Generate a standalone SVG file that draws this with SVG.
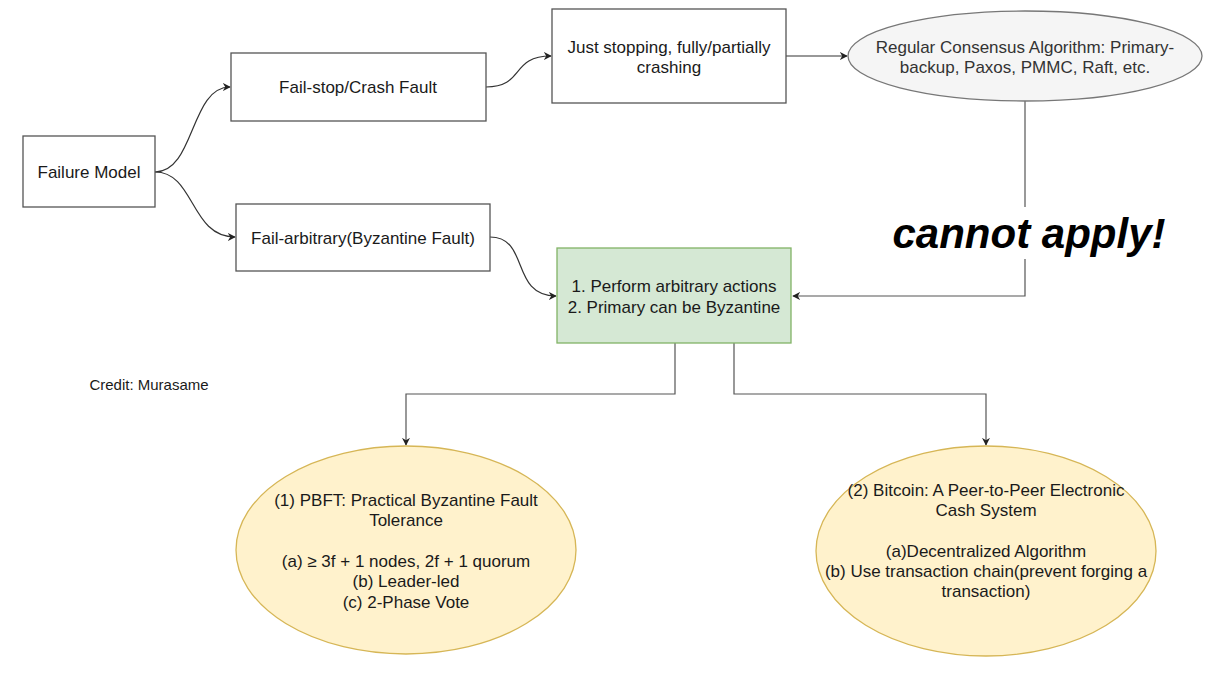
<svg xmlns="http://www.w3.org/2000/svg" width="1231" height="686" viewBox="0 0 1231 686">
<style>
text{font-family:"Liberation Sans",Arial,sans-serif;font-size:17px;fill:#1a1a1a;text-anchor:middle}
.box{fill:#ffffff;stroke:#555555;stroke-width:1.3}
.green{fill:#d5e8d4;stroke:#82b366;stroke-width:1.3}
.yellow{fill:#fff2cc;stroke:#d6b656;stroke-width:1.3}
.grey{fill:#f5f5f5;stroke:#777777;stroke-width:1.3}
.edge{fill:none;stroke:#333333;stroke-width:1.2}
.edgeg{fill:none;stroke:#555555;stroke-width:1.2}
</style>
<defs>
<marker id="arr" viewBox="0 0 10 10" refX="9" refY="5" markerWidth="8" markerHeight="8" orient="auto" markerUnits="userSpaceOnUse">
<path d="M0,0 L10,5 L0,10 L3,5 Z" fill="#222222"/>
</marker>
</defs>
<rect width="1231" height="686" fill="#ffffff"/>
<g id="connectors">
<path class="edge" d="M155,172 C195,172 190,87 230,87" marker-end="url(#arr)"/>
<path class="edge" d="M155,172 C195,172 190,237 235,237" marker-end="url(#arr)"/>
<path class="edge" d="M486,87 C525,87 510,56 551,56" marker-end="url(#arr)"/>
<path class="edge" d="M490,237 C530,237 510,296 556,296" marker-end="url(#arr)"/>
<path class="edge" d="M786,56 L847,56" marker-end="url(#arr)"/>
<path class="edgeg" d="M1025,101 L1025,207"/>
<path class="edgeg" d="M1025,259 L1025,296 L793,296" marker-end="url(#arr)"/>
<path class="edgeg" d="M675,343 L675,394 L406,394 L406,445" marker-end="url(#arr)"/>
<path class="edgeg" d="M734,343 L734,394 L986,394 L986,445" marker-end="url(#arr)"/>
</g>
<g id="failure-model">
<rect class="box" x="23" y="136" width="132" height="71"/>
<text x="89" y="178">Failure Model</text>
</g>
<g id="fail-stop">
<rect class="box" x="231" y="53" width="255" height="68"/>
<text x="358" y="93">Fail-stop/Crash Fault</text>
</g>
<g id="fail-arbitrary">
<rect class="box" x="236" y="204" width="254" height="67"/>
<text x="363" y="244">Fail-arbitrary(Byzantine Fault)</text>
</g>
<g id="just-stopping">
<rect class="box" x="552" y="9" width="234" height="94"/>
<text x="669" y="53">Just stopping, fully/partially</text>
<text x="669" y="73">crashing</text>
</g>
<g id="regular-consensus">
<ellipse class="grey" cx="1025" cy="56" rx="177" ry="45"/>
<text x="1025" y="53" style="fill:#333333">Regular Consensus Algorithm: Primary-</text>
<text x="1025" y="73" style="fill:#333333">backup, Paxos, PMMC, Raft, etc.</text>
</g>
<g id="cannot-apply">
<text x="1029" y="248" style="font-size:42px;font-weight:bold;font-style:italic;fill:#000000">cannot apply!</text>
</g>
<g id="byzantine">
<rect class="green" x="557" y="248" width="234" height="95"/>
<text x="674" y="292">1. Perform arbitrary actions</text>
<text x="674" y="313">2. Primary can be Byzantine</text>
</g>
<g id="credit">
<text x="149" y="390" style="font-size:15px">Credit: Murasame</text>
</g>
<g id="pbft">
<ellipse class="yellow" cx="406" cy="550" rx="170" ry="104"/>
<text x="406" y="506">(1) PBFT: Practical Byzantine Fault</text>
<text x="406" y="526">Tolerance</text>
<text x="406" y="567">(a) ≥ 3f + 1 nodes, 2f + 1 quorum</text>
<text x="406" y="587">(b) Leader-led</text>
<text x="406" y="608">(c) 2-Phase Vote</text>
</g>
<g id="bitcoin">
<ellipse class="yellow" cx="986" cy="551" rx="170" ry="105"/>
<text x="986" y="496">(2) Bitcoin: A Peer-to-Peer Electronic</text>
<text x="986" y="516">Cash System</text>
<text x="986" y="557">(a)Decentralized Algorithm</text>
<text x="986" y="577">(b) Use transaction chain(prevent forging a</text>
<text x="986" y="597">transaction)</text>
</g>
</svg>
